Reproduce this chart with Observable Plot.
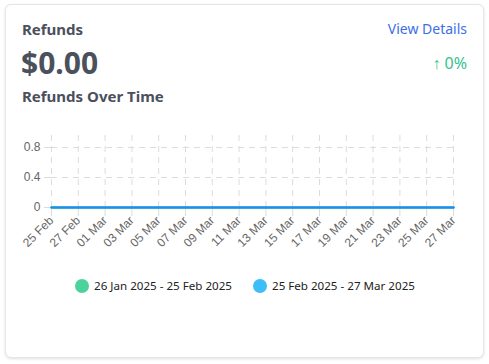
<!DOCTYPE html>
<html>
<head>
<meta charset="utf-8">
<script src="https://cdn.jsdelivr.net/npm/d3@7"></script>
<script src="https://cdn.jsdelivr.net/npm/@observablehq/plot@0.6"></script>
<style>
  html, body { margin: 0; padding: 0; background: #fff; width: 489px; height: 364px; overflow: hidden; }
  body { position: relative; font-family: "Noto Sans", "Open Sans", sans-serif; }
  .card { position: absolute; left: 5px; top: 4px; width: 477px; height: 352px; border: 1px solid #e6e6ea; border-radius: 6px; box-shadow: 0 1px 3px rgba(0,0,0,0.12); background: #fff; }
  .t { position: absolute; white-space: nowrap; line-height: 1; }
  #chart { position: absolute; left: 0; top: 120px; }
  .leg { position: absolute; top: 278px; font-size: 11.6px; color: #222; display: flex; align-items: center; white-space: nowrap; }
  .dot { width: 14px; height: 14px; border-radius: 50%; display: inline-block; margin-right: 5px; }
</style>
</head>
<body>
<div class="card"></div>
<div class="t" style="left:22px; top:22px; font-size:15px; font-weight:700; color:#4a505c;">Refunds</div>
<div class="t" style="left:21px; top:48px; font-size:30px; font-weight:700; color:#4a505c;">$0.00</div>
<div class="t" style="left:22px; top:89px; font-size:15px; font-weight:700; color:#4a505c;">Refunds Over Time</div>
<div class="t" style="right:22px; top:22px; font-size:14px; color:#3d6ee6;">View Details</div>
<div class="t" style="right:22px; top:55px; font-size:16px; color:#35c28c;">↑ 0%</div>
<div id="chart"></div>
<div class="leg" style="left:75px;"><span class="dot" style="background:#4cd39b;"></span>26 Jan 2025 - 25 Feb 2025</div>
<div class="leg" style="left:253px;"><span class="dot" style="background:#3ebef8;"></span>25 Feb 2025 - 27 Mar 2025</div>
<script>
const dates = ["2025-02-25","2025-02-26","2025-02-27","2025-02-28","2025-03-01","2025-03-02","2025-03-03","2025-03-04","2025-03-05","2025-03-06","2025-03-07","2025-03-08","2025-03-09","2025-03-10","2025-03-11","2025-03-12","2025-03-13","2025-03-14","2025-03-15","2025-03-16","2025-03-17","2025-03-18","2025-03-19","2025-03-20","2025-03-21","2025-03-22","2025-03-23","2025-03-24","2025-03-25","2025-03-26","2025-03-27"];
const previousRefunds = [0,0,0,0,0,0,0,0,0,0,0,0,0,0,0,0,0,0,0,0,0,0,0,0,0,0,0,0,0,0,0];
const currentRefunds  = [0,0,0,0,0,0,0,0,0,0,0,0,0,0,0,0,0,0,0,0,0,0,0,0,0,0,0,0,0,0,0];
const tickDates = ["2025-02-25","2025-02-27","2025-03-01","2025-03-03","2025-03-05","2025-03-07","2025-03-09","2025-03-11","2025-03-13","2025-03-15","2025-03-17","2025-03-19","2025-03-21","2025-03-23","2025-03-25","2025-03-27"];
const yTicks = [0, 0.4, 0.8];
const gridY = [0.4, 0.8];

const parse = d3.utcParse("%Y-%m-%d");
const prev = dates.map((d, i) => ({date: parse(d), value: previousRefunds[i]}));
const curr = dates.map((d, i) => ({date: parse(d), value: currentRefunds[i]}));
const xt = tickDates.map(parse);

const plot = Plot.plot({
  width: 489,
  height: 130,
  marginLeft: 51,
  marginRight: 36,
  marginTop: 12,
  marginBottom: 43,
  style: {fontFamily: "'Liberation Sans', Arial, sans-serif", fontSize: "12px", color: "#666", background: "transparent"},
  x: {type: "utc", domain: [parse(dates[0]), parse(dates[dates.length - 1])], label: null},
  y: {domain: [0, 1], label: null},
  marks: [
    Plot.ruleX(xt, {y1: 0, y2: 1, stroke: "#dcdcdc", strokeDasharray: "6,5"}),
    Plot.ruleY(gridY, {stroke: "#dcdcdc", strokeDasharray: "6,5"}),
    Plot.axisX({ticks: xt, tickFormat: d3.utcFormat("%d %b"), tickRotate: -45, tickSize: 9, stroke: "#dcdcdc", fill: "#666", fontSize: 12, tickPadding: 2, label: null}),
    Plot.axisY({ticks: yTicks, tickSize: 7, stroke: "#dcdcdc", fill: "#666", fontSize: 12, tickPadding: 4, tickFormat: d => d3.format("~g")(d), label: null}),
    Plot.ruleY([0], {stroke: "#dcdcdc"}),
    Plot.line(prev, {x: "date", y: "value", stroke: "#4cd39b", strokeWidth: 2}),
    Plot.line(curr, {x: "date", y: "value", stroke: "#1a90ee", strokeWidth: 2.5})
  ]
});
document.getElementById("chart").appendChild(plot);
</script>
</body>
</html>
